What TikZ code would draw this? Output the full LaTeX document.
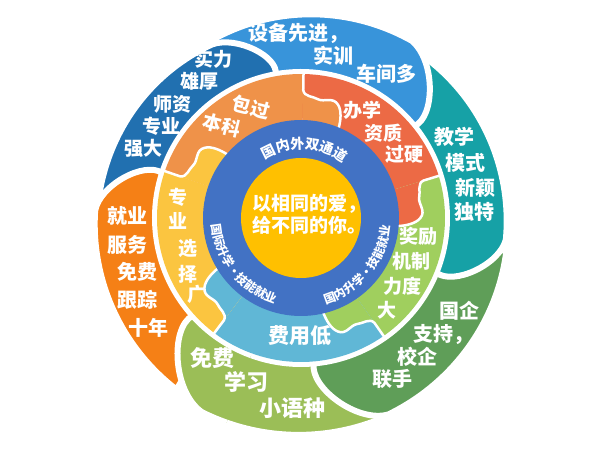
\documentclass[tikz,border=0pt]{standalone}
\usepackage{fontspec}
\setmainfont{Noto Sans CJK SC}
\usetikzlibrary{decorations.text}
\definecolor{petA}{RGB}{33,112,176}
\definecolor{petB}{RGB}{56,148,218}
\definecolor{petC}{RGB}{22,161,166}
\definecolor{petD}{RGB}{95,158,88}
\definecolor{petE}{RGB}{155,190,87}
\definecolor{petF}{RGB}{245,128,22}
\definecolor{pzO}{RGB}{239,146,73}
\definecolor{pzR}{RGB}{236,106,69}
\definecolor{pzG}{RGB}{160,207,94}
\definecolor{pzB}{RGB}{96,183,214}
\definecolor{pzY}{RGB}{251,197,64}
\definecolor{ringblue}{RGB}{66,114,196}
\definecolor{coreyellow}{RGB}{255,192,0}
\newcommand\rin{146}
% #1 colour, #2 tip angle, #3 tip radius, #4 cap angle, #5 cap radius, #6 end angle, #7 hidden start
\newcommand\mypetal[7]{%
  \filldraw[fill=#1, draw=white, line width=6pt, line join=round]
  (#7:\rin) arc[start angle=#7, end angle=#6, radius=\rin]
  .. controls ({#6-2}:{\rin+0.35*(#5-\rin)}) and ({#4-0.45*(#4-(#6))}:{#5-2}) .. (#4:#5)
  -- plot[domain=#4:#2, samples=40, variable=\t] (\t:{#5+(#3-(#5))*(\t-(#4))/((#2)-(#4))})
  -- cycle;}
\newcommand\knobcurve{(128,0) .. controls (121,1) and (122,10) .. (119,15) .. controls (116,21) and (122,30) .. (114,35) .. controls (108,39) and (98,38) .. (90,36)}
\newcommand\myknob[2]{%
  \begin{scope}[rotate=#1, yscale=-1]
    \fill[#2] \knobcurve -- (84,36) -- (84,0) -- cycle;
    \draw[white, line width=2.5pt, line cap=round] (147,0) -- \knobcurve;
  \end{scope}}
\newcommand\mysector[3]{%
  \fill[#1] (#2:84) arc[start angle=#2, end angle=#3, radius=84] -- (#3:144) arc[start angle=#3, end angle=#2, radius=144] -- cycle;}
\begin{document}
\begin{tikzpicture}[x=1pt,y=1pt,
  lbl/.style={text=white, inner sep=0pt, font=\bfseries\fontsize{20}{20}\selectfont},
  lblA/.style={lbl, font=\bfseries\fontsize{19}{19}\selectfont},
  lblE/.style={lbl, font=\bfseries\fontsize{22}{22}\selectfont},
  lblP/.style={lbl, font=\bfseries\fontsize{19}{19}\selectfont}]
\useasboundingbox (0,0) rectangle (600,450);
\fill[white] (0,0) rectangle (600,450);
\begin{scope}[shift={(301,232)}]
  % outer petals
  \mypetal{petE}{-68}{216}{-117}{218}{-138}{-70}
  \mypetal{petD}{-9}{208}{-66}{215}{-85}{-11}
  \mypetal{petC}{52}{203}{-6}{206}{-22}{50}
  \mypetal{petB}{116}{199}{58}{209}{39}{114}
  \mypetal{petA}{173}{203}{117}{195}{100}{171}
  \mypetal{petF}{234}{212}{178}{206}{162}{232}
  \begin{scope}
    \clip (0,0) -- (-155:260) arc[start angle=-155, end angle=-110, radius=260] -- cycle;
    \mypetal{petE}{-68}{216}{-117}{218}{-138}{-70}
  \end{scope}
  % puzzle ring
  \mysector{pzO}{89}{161}
  \mysector{pzR}{17}{89}
  \mysector{pzG}{-55}{17}
  \mysector{pzB}{-127}{-55}
  \mysector{pzY}{161}{233}
  \myknob{89}{pzO}
  \myknob{17}{pzR}
  \myknob{-55}{pzG}
  \myknob{-127}{pzB}
  \myknob{161}{pzY}
  % inner rings
  \fill[ringblue] (0,0) circle[radius=98];
  \fill[coreyellow] (0,0) circle[radius=60];
  \path[decorate, decoration={text along path, text align=center, text color=white,
     text={|\bfseries\fontsize{14}{14}\selectfont|国内外双通道}}]
     (122:69) arc[start angle=122, end angle=52, radius=69];
  \path[decorate, decoration={text along path, text align=center, text color=white,
     text={|\bfseries\fontsize{12}{12}\selectfont|国际升学·技能就业}}]
     (170:89.5) arc[start angle=170, end angle=267, radius=89.5];
  \path[decorate, decoration={text along path, text align=center, text color=white,
     text={|\bfseries\fontsize{12}{12}\selectfont|国内升学·技能就业}}]
     (278:89.5) arc[start angle=278, end angle=363, radius=89.5];
\end{scope}
% centre text
\node[lblP, anchor=west] (c1) at (252,246) {以相同的爱，};
\node[lblP, anchor=west] (c2) at (252,225) {给不同的你。};
% petal texts
\node[lbl] (b1) at (298,417) {设备先进，};
\node[lbl] (b2) at (333,394) {实训};
\node[lbl] (b3) at (386,376) {车间多};
\node[lblA] (a1) at (213,391) {实力};
\node[lblA] (a2) at (199,369) {雄厚};
\node[lblA] (a3) at (172,346) {师资};
\node[lblA] (a4) at (161,324) {专业};
\node[lblA] (a5) at (143,302) {强大};
\node[lbl] (k1) at (454,313) {教学};
\node[lbl] (k2) at (465,287) {模式};
\node[lbl] (k3) at (475,262) {新颖};
\node[lbl] (k4) at (474,238) {独特};
\node[lbl] (d1) at (459,139) {国企};
\node[lbl] (d2) at (443,115) {支持，};
\node[lbl] (d3) at (417,93) {校企};
\node[lbl] (d4) at (392,71) {联手};
\node[lblE] (e1) at (212,92) {免费};
\node[lblE] (e2) at (246,68) {学习};
\node[lblE] (e3) at (292,42) {小语种};
\node[lbl] (f1) at (127,234) {就业};
\node[lbl] (f2) at (127,205) {服务};
\node[lbl] (f3) at (137,178) {免费};
\node[lbl] (f4) at (137,150) {跟踪};
\node[lbl] (f5) at (148,122) {十年};
% puzzle texts
\node[lblP, rotate=-14] (p1) at (251,343) {包过};
\node[lblP, rotate=-14] (p2) at (222,325) {本科};
\node[lblP] (p3) at (362,340) {办学};
\node[lblP] (p4) at (383,317) {资质};
\node[lblP] (p5) at (404,296) {过硬};
\node[lblP] (p6) at (418,214) {奖励};
\node[lblP] (p7) at (411,189) {机制};
\node[lblP] (p8) at (402,164) {力度};
\node[lblP] (p9) at (387,140) {大};
\node[lbl, font=\bfseries\fontsize{21}{21}\selectfont] (p10) at (300,114) {费用低};
\node[lblP] (y1) at (178,253) {专};
\node[lblP] (y2) at (178,229) {业};
\node[lblP] (y3) at (188,202) {选};
\node[lblP] (y4) at (188,176) {择};
\node[lblP] (y5) at (197,156) {广};
\end{tikzpicture}
\end{document}
